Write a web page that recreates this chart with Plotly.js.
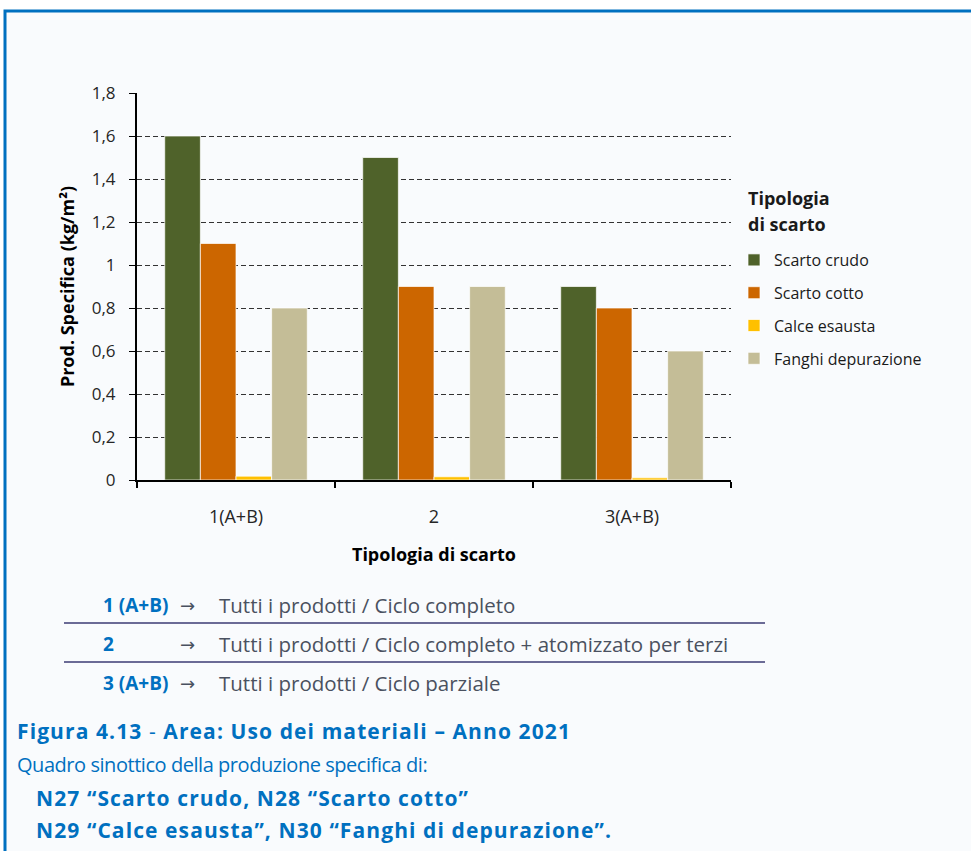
<!DOCTYPE html>
<html>
<head>
<meta charset="utf-8">
<script src="https://cdn.plot.ly/plotly-3.0.1.min.js"></script>
<style>html,body{margin:0;padding:0;background:#fff;}#chart{width:971px;height:851px;}</style>
</head>
<body>
<div id="chart"></div>
<script>
const categories = ["1(A+B)", "2", "3(A+B)"];
const seriesNames = ["Scarto crudo", "Scarto cotto", "Calce esausta", "Fanghi depurazione"];
const scartoCrudo = [1.6, 1.5, 0.9];
const scartoCotto = [1.1, 0.9, 0.8];
const calceEsausta = [0.018, 0.015, 0.01];
const fanghiDepurazione = [0.8, 0.9, 0.6];
const seriesColors = ["#4f622a", "#cc6600", "#ffc000", "#c4bd97"];

const W = 971, H = 851;
const L = 137, R = 731, T = 93, B = 480;
const px = x => (x - L) / (R - L);
const py = y => (B - y) / (B - T);

const font = "'Open Sans', 'Noto Sans', sans-serif";
const blue = "#0070c0";
const gray = "#4a5160";

const values = [scartoCrudo, scartoCotto, calceEsausta, fanghiDepurazione];
const traces = values.map((v, i) => ({
  type: "bar",
  name: seriesNames[i],
  legendgroup: "g" + i,
  x: categories,
  y: v,
  marker: {color: seriesColors[i], line: {color: "rgba(255,255,255,0.7)", width: 1}},
  hoverinfo: "skip"
}));

const annotations = [];
function txt(x, y, text, opts) {
  annotations.push(Object.assign({
    xref: "paper", yref: "paper", x: px(x), y: py(y), text: text,
    showarrow: false, xanchor: "left", yanchor: "middle",
    font: {family: font, size: 20, color: gray}
  }, opts || {}));
}
const rows = [
  ["<b>1 (A+B)</b>", "Tutti i prodotti / Ciclo completo", 605],
  ["<b>2</b>", "Tutti i prodotti / Ciclo completo + atomizzato per terzi", 644],
  ["<b>3 (A+B)</b>", "Tutti i prodotti / Ciclo parziale", 683]
];
rows.forEach(r => {
  txt(101, r[2], r[0], {font: {family: font, size: 19, color: blue}});
  txt(178, r[2], "→", {font: {family: "'DejaVu Sans', sans-serif", size: 18, color: gray}});
  txt(217, r[2], r[1], {font: {family: font, size: 20.5, color: gray}});
});
const sp = s => '<span style="letter-spacing:' + s + 'px">';
txt(15, 731, sp(1.1) + "<b>Figura 4.13</b> - <b>Area: Uso dei materiali – Anno 2021</b></span>", {font: {family: font, size: 21, color: blue}});
txt(15, 764, sp(-0.45) + "Quadro sinottico della produzione specifica di:</span>", {font: {family: font, size: 20, color: blue}});
txt(34, 798, sp(1.1) + "<b>N27 “Scarto crudo, N28 “Scarto cotto”</b></span>", {font: {family: font, size: 21, color: blue}});
txt(34, 830, sp(1.1) + "<b>N29 “Calce esausta”, N30 “Fanghi di depurazione”.</b></span>", {font: {family: font, size: 21, color: blue}});
// legend title
txt(746, 198, "<b>Tipologia</b>", {font: {family: font, size: 18, color: "#1a1a1a"}});
txt(746, 224, "<b>di scarto</b>", {font: {family: font, size: 18, color: "#1a1a1a"}});

const shapes = [
  {type: "rect", xref: "paper", yref: "paper", layer: "below",
   x0: px(5), x1: px(990), y0: py(11), y1: py(870),
   fillcolor: "#f9fbfd", line: {color: blue, width: 3}},
  {type: "line", xref: "paper", yref: "paper", x0: px(64), x1: px(765), y0: py(623), y1: py(623),
   line: {color: "#6b6b96", width: 2}},
  {type: "line", xref: "paper", yref: "paper", x0: px(64), x1: px(765), y0: py(662), y1: py(662),
   line: {color: "#6b6b96", width: 2}}
];

const layout = {
  width: W, height: H,
  margin: {l: L, r: W - R, t: T, b: H - B},
  paper_bgcolor: "#ffffff",
  plot_bgcolor: "rgba(0,0,0,0)",
  separators: ",.",
  barmode: "group",
  bargap: 0.28,
  bargroupgap: 0,
  showlegend: true,
  font: {family: font, color: "#333333"},
  xaxis: {
    type: "category",
    showline: true, linecolor: "#000", linewidth: 2,
    ticks: "outside", tickson: "boundaries", ticklen: 6, tickcolor: "#000", tickwidth: 2,
    tickfont: {family: font, size: 18, color: "#262626"},
    ticklabelstandoff: 19,
    showgrid: false,
    title: {text: "<b>Tipologia di scarto</b>", font: {family: font, size: 18, color: "#000"}, standoff: 22}
  },
  yaxis: {
    range: [0, 1.8], dtick: 0.2, tick0: 0,
    showline: true, linecolor: "#000", linewidth: 2,
    ticks: "outside", ticklen: 6, tickcolor: "#000", tickwidth: 1,
    tickfont: {family: font, size: 17, color: "#262626"},
    ticklabelstandoff: 10,
    showgrid: true, gridcolor: "#333333", gridwidth: 1, griddash: "5px,3px",
    zeroline: false,
    title: {text: "<b>Prod. Specifica (kg/m²)</b>", font: {family: font, size: 18, color: "#000"}, standoff: 12}
  },
  legend: {
    x: px(734), xanchor: "left", y: py(243), yanchor: "top",
    bgcolor: "rgba(0,0,0,0)",
    font: {family: font, size: 16, color: "#1a1a1a"},
    itemwidth: 30, tracegroupgap: 9, traceorder: "grouped"
  },
  annotations: annotations,
  shapes: shapes
};

Plotly.newPlot("chart", traces, layout, {displayModeBar: false, staticPlot: true});
</script>
</body>
</html>
